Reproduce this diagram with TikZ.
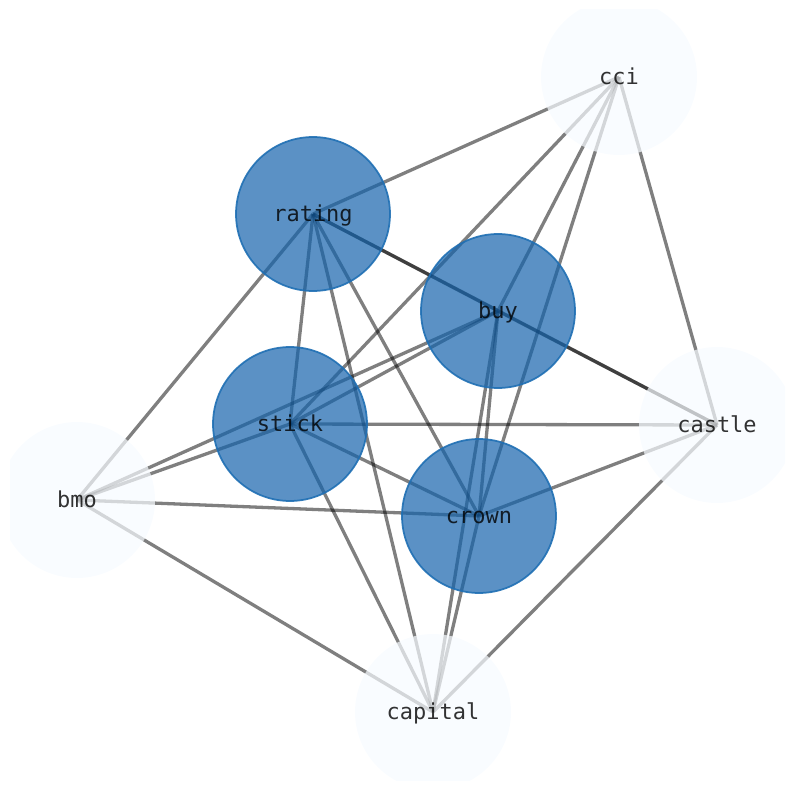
\documentclass[tikz,border=0pt]{standalone}
\usepackage{fontspec}
\usepackage{xcolor}
\usepackage{tikz}
\newfontfamily\labelfont{DejaVu Sans Mono}
\definecolor{nodeblue}{HTML}{1563AC}
\definecolor{ringblue}{HTML}{1F6FB4}
\definecolor{palefill}{HTML}{F7FBFF}
\pgfdeclarelayer{edges}
\pgfsetlayers{edges,main}

\begin{document}
\begin{tikzpicture}[x=0.02cm, y=-0.02cm,
    term/.style={circle, minimum size=3.12cm, inner sep=0pt, text opacity=0.8,
      font=\labelfont\fontsize{12.5}{14}\selectfont, text height=8pt, text depth=0pt},
    hub/.style={term, fill=nodeblue, fill opacity=0.7, draw=ringblue, draw opacity=0.9,
      line width=0.035cm, minimum size=3.08cm},
    leaf/.style={term, fill=palefill, fill opacity=0.7},
    link/.style={black, draw opacity=0.5, line width=0.066cm}]
            \useasboundingbox (0,0) rectangle (794,790);
            \clip (10,10) rectangle (785,780);
            % outer terms
            \node[leaf] (cci) at (619,77) {cci};
            \node[leaf] (castle) at (717,425) {castle};
            \node[leaf] (bmo) at (77,500) {bmo};
            \node[leaf] (capital) at (433,712) {capital};
            % inner terms
            \node[hub] (rating) at (313,214) {rating};
            \node[hub] (buy) at (498,311) {buy};
            \node[hub] (stick) at (290,424) {stick};
            \node[hub] (crown) at (479,516) {crown};
            \begin{pgfonlayer}{edges}
                \foreach \u/\v in {cci/rating, cci/stick, cci/buy, cci/crown, cci/castle,
                    rating/buy, rating/castle, rating/bmo, rating/stick, rating/capital, rating/crown,
                    buy/castle, buy/stick, buy/bmo, buy/crown, buy/capital,
                    stick/bmo, stick/castle, stick/crown, stick/capital,
                    crown/castle, crown/bmo, crown/capital,
                    capital/castle, capital/bmo}
                    \draw[link] (\u.center) -- (\v.center);
            \end{pgfonlayer}
        \end{tikzpicture}
\end{document}
